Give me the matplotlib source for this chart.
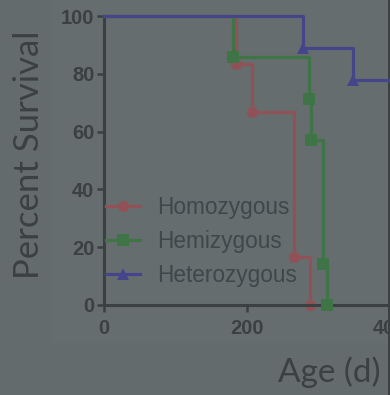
#!/usr/bin/env python

"""
 Purpose:
 --------
 Kaplan-Meier style survival curves by genotype (percent survival vs age in days)
"""

import numpy as np
import matplotlib as mpl
mpl.use('Agg')
import matplotlib.pyplot as plt
import matplotlib.patches as patches

# survival steps: day of each event and percent surviving after it
homo_days = [0, 185, 208, 266, 289]
homo_surv = [100., 83.3, 66.7, 16.7, 0.]
hemi_days = [0, 181, 288, 290, 307, 313]
hemi_surv = [100., 85.7, 71.4, 57.1, 14.3, 0.]
het_days = [0, 279, 349]
het_surv = [100., 88.9, 77.8]
het_lastday = 430  # last follow-up, still alive

labels = ['Homozygous', 'Hemizygous', 'Heterozygous']
xticks = [0, 200, 400]
yticks = [0, 20, 40, 60, 80, 100]

bg_out = '#646b6c'
bg_in = '#666d6e'
dark = '#3b4143'
colours = ['#905256', '#3f7447', '#45468a']
markers = ['o', 's', '^']

mpl.rcParams['axes.linewidth'] = 2.2
mpl.rcParams['xtick.major.size'] = 5
mpl.rcParams['ytick.major.size'] = 5
mpl.rcParams['xtick.major.width'] = 1.8
mpl.rcParams['ytick.major.width'] = 1.8
mpl.rcParams['xtick.direction'] = 'out'
mpl.rcParams['ytick.direction'] = 'out'
mpl.rcParams['xtick.color'] = dark
mpl.rcParams['ytick.color'] = dark

fig = plt.figure(figsize=(3.9, 3.95), dpi=100, facecolor=bg_out)
# slightly lighter panel behind the plot
fig.patches.append(patches.Rectangle((52/390., 1-343/395.), 1., 343/395., transform=fig.transFigure,
                                     facecolor=bg_in, edgecolor='none', zorder=-2))
fig.patches.append(patches.Rectangle((388/390., 0), 2/390., 1., transform=fig.transFigure,
                                     facecolor=dark, edgecolor='none', zorder=-1))

ax1 = fig.add_axes([104/390., 1-305/395., 0.75, 289/395.])
ax1.set_zorder(1)
ax1.patch.set_visible(False)

series = [(homo_days, homo_surv), (hemi_days, hemi_surv), (het_days + [het_lastday], het_surv + [het_surv[-1]])]
for i, (d, s) in enumerate(series):
    ax1.step(d, s, where='post', color=colours[i], linewidth=2.3, zorder=2+i, clip_on=False)
    # symbols at each death (skip the start point and the censored end)
    n = len(homo_days) if i == 0 else len(hemi_days) if i == 1 else len(het_days)
    ax1.plot(d[1:n], s[1:n], linestyle='none', marker=markers[i], markersize=8,
             color=colours[i], markeredgewidth=0, zorder=2+i, clip_on=False)
    ax1.plot([], [], color=colours[i], linewidth=2.3, marker=markers[i], markersize=8,
             markeredgewidth=0, label=labels[i])

ax1.set_xlim(0, 410)
ax1.set_ylim(0, 100)
ax1.set_xticks(xticks)
ax1.set_yticks(yticks)
for sp in ['top', 'right']:
    ax1.spines[sp].set_visible(False)
for sp in ['left', 'bottom']:
    ax1.spines[sp].set_color(dark)
ax1.tick_params(axis='y', pad=2)
ax1.tick_params(axis='x', pad=5)
for lab in ax1.get_xticklabels() + ax1.get_yticklabels():
    lab.set_fontfamily('Liberation Sans')
    lab.set_fontweight('bold')
    lab.set_fontsize(14.5)
    lab.set_color(dark)

leg = ax1.legend(loc='upper left', bbox_to_anchor=(106/390., 1-196/395.), bbox_transform=fig.transFigure,
                 frameon=False, borderpad=0, borderaxespad=0, handlelength=1.5, handletextpad=0.75,
                 labelspacing=0.48, prop={'family': 'Liberation Sans', 'size': 16.3})
for t in leg.get_texts():
    t.set_color('#40474a')

fig.text(29/390., 1-155/395., 'Percent Survival', rotation=90, ha='center', va='center',
         family='Lato', fontsize=25, color=dark)
fig.text(278/390., 1-381.7/395., 'Age (d)', ha='left', va='baseline',
         family='Lato', fontsize=24, color=dark)

plt.savefig('out.png', dpi=100, facecolor=bg_out)
plt.close()
